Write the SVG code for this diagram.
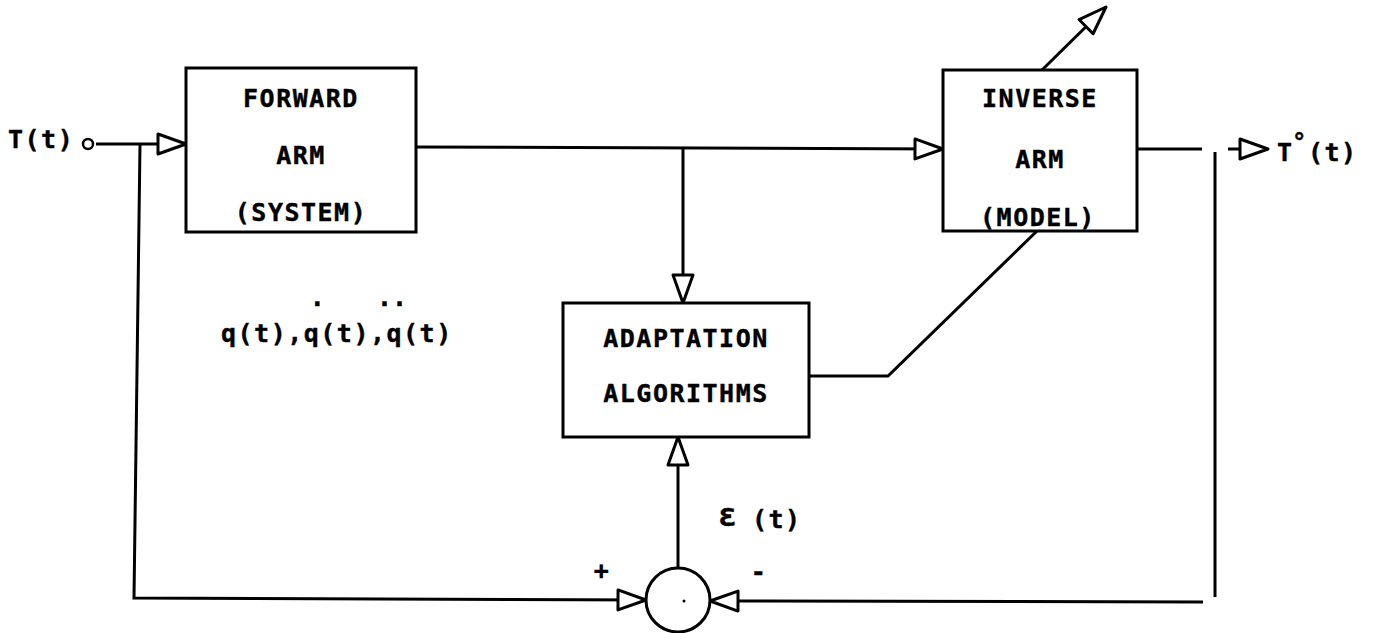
<svg xmlns="http://www.w3.org/2000/svg" width="1375" height="633" viewBox="0 0 1375 633">
<style>
.box{fill:#fff;stroke:#000;stroke-width:3}
.ln{fill:none;stroke:#000;stroke-width:3}
.t{font-family:"DejaVu Sans Mono","Liberation Mono",monospace;font-weight:bold;font-size:25px;fill:#000;letter-spacing:1.5px;stroke:#000;stroke-width:0.4px}
.c{text-anchor:middle}
</style>
<defs>
<marker id="ah" viewBox="0 0 32 24" refX="30" refY="12" markerWidth="32" markerHeight="24" markerUnits="userSpaceOnUse" orient="auto">
<path d="M2,2 L30,12 L2,22 Z" fill="#fff" stroke="#000" stroke-width="3" stroke-linejoin="round"/>
</marker>
</defs>
<rect width="1375" height="633" fill="#fff"/>
<g id="connectors">
<circle cx="88" cy="144" r="5" class="ln" style="stroke-width:2.5"/>
<path class="ln" d="M96,144 L186,144" marker-end="url(#ah)"/>
<path class="ln" d="M140,144 L134,598 L646,600" marker-end="url(#ah)"/>
<path class="ln" d="M416,147 L943,149" marker-end="url(#ah)"/>
<path class="ln" d="M683,147 L683,303" marker-end="url(#ah)"/>
<path class="ln" d="M1042,70 L1106,7" marker-end="url(#ah)"/>
<path class="ln" d="M1137,149 L1202,149"/>
<path class="ln" d="M1215,152 L1215,597"/>
<path class="ln" d="M1228,149 L1268,149" marker-end="url(#ah)"/>
<path class="ln" d="M1037,231 L888,376 L809,376"/>
<path class="ln" d="M1203,602 L710,601" marker-end="url(#ah)"/>
<path class="ln" d="M678,568 L678,437" marker-end="url(#ah)"/>
</g>
<g id="forward">
<rect class="box" x="186" y="68" width="230" height="164"/>
<text class="t c" x="301" y="107">FORWARD</text>
<text class="t c" x="301" y="164">ARM</text>
<text class="t c" x="301" y="221">(SYSTEM)</text>
</g>
<g id="inverse">
<rect class="box" x="943" y="70" width="194" height="161"/>
<text class="t c" x="1040" y="107">INVERSE</text>
<text class="t c" x="1040" y="168">ARM</text>
<text class="t c" x="1038" y="226">(MODEL)</text>
</g>
<g id="adaptation">
<rect class="box" x="563" y="303" width="246" height="134"/>
<text class="t c" x="686" y="347">ADAPTATION</text>
<text class="t c" x="686" y="402">ALGORITHMS</text>
</g>
<g id="summer">
<circle class="box" cx="678" cy="600" r="32"/>
<circle cx="684" cy="601" r="1.5" fill="#000"/>
</g>
<g id="labels">
<text class="t" x="8" y="148">T(t)</text>
<text class="t" x="1277" y="161">T</text>
<text class="t" x="1292" y="150" style="font-size:24px">°</text>
<text class="t" x="1308" y="161">(t)</text>
<text class="t" x="221" y="342">q(t),q(t),q(t)</text>
<text class="t c" x="318" y="306">.</text>
<text class="t c" x="392" y="306" style="letter-spacing:0">..</text>
<text class="t" x="718" y="526" style="font-size:32px">ε</text>
<text class="t" x="752" y="528">(t)</text>
<text class="t c" x="602" y="579">+</text>
<text class="t c" x="759" y="580">-</text>
</g>
</svg>
